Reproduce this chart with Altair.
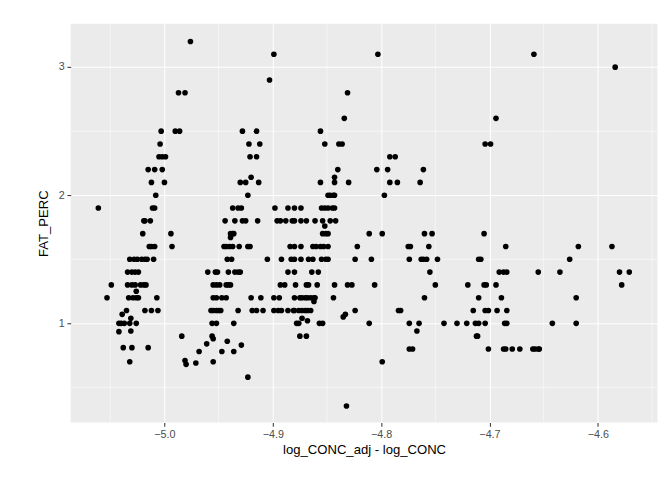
import altair as alt
import pandas as pd

# ggplot2 grey theme look
PANEL = "#EBEBEB"
INK = "#4D4D4D"
FONT = "Liberation Sans"

# ---- data: x = log_CONC_adj - log_CONC, y = FAT_PERC ----
# left cluster (around -5.0)
left_x = [-4.976, -4.987, -4.981, -5.003, -4.990, -4.986, -5.004, -5.005, -5.002, -4.999,
          -5.015, -5.009, -5.002, -5.012, -5.000, -5.008, -5.061, -5.011, -5.009,
          -5.019, -5.018, -5.013, -5.020, -4.994, -5.014, -5.012, -5.009, -4.993,
          -5.032, -5.028, -5.025, -5.021, -5.018, -5.016, -5.010,
          -5.034, -5.030, -5.027, -5.024,
          -5.049, -5.034, -5.030, -5.027, -5.022, -5.019, -5.017, -5.026,
          -5.053, -5.033, -5.029, -5.026, -5.024, -5.007,
          -5.035, -5.018, -5.012, -5.006, -5.039, -5.031,
          -5.042, -5.040, -5.037, -5.032, -5.026, -5.042, -5.031,
          -5.038, -5.030, -5.015, -5.032]
left_y = [3.2, 2.8, 2.8, 2.5, 2.5, 2.5, 2.4, 2.3, 2.3, 2.3,
          2.2, 2.2, 2.2, 2.1, 2.1, 2.0, 1.9, 1.9, 1.9,
          1.8, 1.8, 1.8, 1.7, 1.7, 1.6, 1.6, 1.6, 1.6,
          1.5, 1.5, 1.5, 1.5, 1.5, 1.5, 1.5,
          1.4, 1.4, 1.4, 1.4,
          1.3, 1.3, 1.3, 1.3, 1.3, 1.3, 1.3, 1.25,
          1.2, 1.2, 1.2, 1.2, 1.2, 1.2,
          1.1, 1.1, 1.1, 1.1, 1.07, 1.04,
          1.0, 1.0, 1.0, 1.0, 1.0, 0.935, 0.94,
          0.81, 0.81, 0.81, 0.7]

# second cluster (around -4.93)
mid_x = [-4.899, -4.903, -4.928, -4.915, -4.922, -4.912, -4.921, -4.915, -4.920,
         -4.930, -4.925, -4.913, -4.923, -4.937, -4.932, -4.929, -4.898,
         -4.944, -4.935, -4.928, -4.925, -4.914, -4.939, -4.937, -4.936, -4.939,
         -4.945, -4.943, -4.940, -4.937, -4.931, -4.923, -4.921, -4.942, -4.938, -4.905,
         -4.960, -4.953, -4.951, -4.941, -4.935, -4.932, -4.930,
         -4.955, -4.952, -4.949, -4.943, -4.941, -4.939,
         -4.955, -4.952, -4.947, -4.943, -4.920, -4.911, -4.899,
         -4.957, -4.955, -4.952, -4.950, -4.948, -4.932, -4.919, -4.915, -4.909, -4.899,
         -4.956, -4.952, -4.936, -4.984, -4.956, -4.955, -4.961, -4.942,
         -4.968, -4.947, -4.936, -4.929, -4.981, -4.980, -4.971, -4.955, -4.923]
mid_y = [3.1, 2.9, 2.5, 2.5, 2.4, 2.4, 2.3, 2.3, 2.14,
         2.1, 2.1, 2.1, 2.0, 1.9, 1.9, 1.9, 1.9,
         1.8, 1.8, 1.8, 1.8, 1.8, 1.7, 1.7, 1.7, 1.67,
         1.6, 1.6, 1.6, 1.6, 1.6, 1.6, 1.6, 1.5, 1.5, 1.5,
         1.4, 1.4, 1.4, 1.4, 1.4, 1.4, 1.4,
         1.3, 1.3, 1.3, 1.3, 1.3, 1.3,
         1.2, 1.2, 1.2, 1.2, 1.2, 1.2, 1.2,
         1.1, 1.1, 1.1, 1.1, 1.1, 1.1, 1.1, 1.1, 1.1, 1.1,
         1.0, 1.0, 1.0, 0.9, 0.9, 0.88, 0.84, 0.86,
         0.78, 0.78, 0.78, 0.83, 0.71, 0.68, 0.69, 0.7, 0.58]

# third cluster (around -4.87 .. -4.78)
third_x = [-4.803, -4.831, -4.834, -4.856, -4.852, -4.839, -4.836, -4.792, -4.787,
           -4.840, -4.804, -4.794, -4.843, -4.843, -4.856, -4.830, -4.792, -4.785,
           -4.849, -4.847, -4.844, -4.843, -4.797,
           -4.886, -4.880, -4.874, -4.855, -4.852, -4.849, -4.845, -4.843,
           -4.896, -4.893, -4.888, -4.882, -4.880, -4.874, -4.869, -4.861, -4.854, -4.847, -4.842, -4.852,
           -4.854, -4.851, -4.849, -4.811, -4.799,
           -4.884, -4.880, -4.874, -4.863, -4.860, -4.856, -4.853, -4.849, -4.822,
           -4.892, -4.883, -4.880, -4.874, -4.867, -4.863, -4.855, -4.851, -4.849, -4.824, -4.809,
           -4.886, -4.880, -4.864, -4.858,
           -4.893, -4.889, -4.879, -4.869, -4.867, -4.859, -4.843, -4.831, -4.827, -4.806,
           -4.894, -4.880, -4.875, -4.873, -4.870, -4.868, -4.865, -4.862, -4.861, -4.844, -4.862,
           -4.895, -4.892, -4.886, -4.881, -4.880, -4.876, -4.873, -4.870, -4.868, -4.865, -4.824, -4.784,
           -4.833, -4.835, -4.878, -4.876, -4.857, -4.854, -4.811, -4.873, -4.868,
           -4.875, -4.869, -4.799, -4.832]
third_y = [3.1, 2.8, 2.6, 2.5, 2.4, 2.4, 2.4, 2.3, 2.3,
           2.2, 2.2, 2.2, 2.14, 2.1, 2.1, 2.1, 2.1, 2.1,
           2.0, 2.0, 2.0, 2.0, 2.0,
           1.9, 1.9, 1.9, 1.9, 1.9, 1.9, 1.9, 1.9,
           1.8, 1.8, 1.8, 1.8, 1.8, 1.8, 1.8, 1.8, 1.8, 1.8, 1.8, 1.76,
           1.7, 1.7, 1.7, 1.7, 1.7,
           1.6, 1.6, 1.6, 1.6, 1.6, 1.6, 1.6, 1.6, 1.6,
           1.5, 1.5, 1.5, 1.5, 1.5, 1.5, 1.5, 1.5, 1.5, 1.5, 1.5,
           1.4, 1.4, 1.4, 1.4,
           1.3, 1.3, 1.3, 1.3, 1.3, 1.3, 1.3, 1.3, 1.3, 1.3,
           1.2, 1.2, 1.2, 1.2, 1.2, 1.2, 1.2, 1.2, 1.2, 1.2, 1.17,
           1.1, 1.1, 1.1, 1.1, 1.1, 1.1, 1.1, 1.1, 1.1, 1.1, 1.1, 1.1,
           1.07, 1.05, 1.0, 1.0, 1.0, 1.0, 1.0, 1.04, 1.02,
           0.9, 0.9, 0.7, 0.355]

# right-hand spread (-4.78 .. -4.57)
right_x = [-4.659, -4.584, -4.694, -4.704, -4.699, -4.761, -4.764,
           -4.760, -4.753, -4.705,
           -4.775, -4.773, -4.756, -4.685, -4.618, -4.587,
           -4.774, -4.763, -4.761, -4.758, -4.748, -4.710, -4.708, -4.626,
           -4.755, -4.691, -4.687, -4.684, -4.655, -4.635, -4.580, -4.571,
           -4.750, -4.720, -4.705, -4.703, -4.694, -4.578,
           -4.760, -4.710, -4.689, -4.620,
           -4.782, -4.715, -4.704, -4.701, -4.693, -4.684,
           -4.774, -4.765, -4.742, -4.730, -4.721, -4.713, -4.710, -4.704, -4.686, -4.684, -4.642, -4.620,
           -4.767, -4.712, -4.711,
           -4.774, -4.771, -4.701, -4.687, -4.685, -4.679, -4.672, -4.660, -4.658, -4.655, -4.654]
right_y = [3.1, 3.0, 2.6, 2.4, 2.4, 2.2, 2.1,
           1.7, 1.7, 1.7,
           1.6, 1.6, 1.6, 1.6, 1.6, 1.6,
           1.5, 1.5, 1.5, 1.5, 1.5, 1.5, 1.5, 1.5,
           1.4, 1.4, 1.4, 1.4, 1.4, 1.4, 1.4, 1.4,
           1.3, 1.3, 1.3, 1.3, 1.3, 1.3,
           1.2, 1.2, 1.2, 1.2,
           1.1, 1.1, 1.1, 1.1, 1.1, 1.1,
           1.0, 1.0, 1.0, 1.0, 1.0, 1.0, 1.0, 1.0, 1.0, 1.0, 1.0, 1.0,
           0.94, 0.9, 0.9,
           0.8, 0.8, 0.8, 0.8, 0.8, 0.8, 0.8, 0.8, 0.8, 0.8, 0.8]

x_major = [-5.0, -4.9, -4.8, -4.7, -4.6]
x_minor = [-5.05, -4.95, -4.85, -4.75, -4.65, -4.55]
y_major = [1, 2, 3]
y_minor = [0.5, 1.5, 2.5]

df = pd.DataFrame({
    "diff": left_x + mid_x + third_x + right_x,
    "fat": left_y + mid_y + third_y + right_y,
})

xs = alt.Scale(domain=[-5.0865, -4.545], nice=False, zero=False)
ys = alt.Scale(domain=[0.226, 3.338], nice=False, zero=False)
xaxis = alt.Axis(values=x_major, format=".1f")
yaxis = alt.Axis(values=y_major, format="d")
XT = "log_CONC_adj - log_CONC"
YT = "FAT_PERC"

xminor = alt.Chart(pd.DataFrame({"v": x_minor})).mark_rule(
    color="white", strokeWidth=0.55).encode(
    x=alt.X("v:Q", scale=xs, axis=xaxis, title=XT))
yminor = alt.Chart(pd.DataFrame({"v": y_minor})).mark_rule(
    color="white", strokeWidth=0.55).encode(
    y=alt.Y("v:Q", scale=ys, axis=yaxis, title=YT))

points = alt.Chart(df).mark_circle(color="black", opacity=1, size=36).encode(
    x=alt.X("diff:Q", scale=xs, axis=xaxis, title=XT),
    y=alt.Y("fat:Q", scale=ys, axis=yaxis, title=YT),
)

chart = (
    (xminor + yminor + points)
    .properties(width=627, height=426, background="white",
                padding={"left": 31, "top": 0, "right": 6, "bottom": 0})
    .configure_view(fill=PANEL, stroke=None)
    .configure_axis(domain=False, gridColor="white", gridWidth=1.1,
                    tickColor="#333333", tickSize=4, tickWidth=1.1,
                    labelColor=INK, labelFont=FONT, labelFontSize=11.5, labelPadding=3,
                    titleColor="black", titleFont=FONT, titleFontSize=14,
                    titleFontWeight="normal")
    .configure_axisX(titlePadding=4)
    .configure_axisY(titlePadding=8)
)

chart.save("out.html", embed_options={"renderer": "svg", "actions": False})
